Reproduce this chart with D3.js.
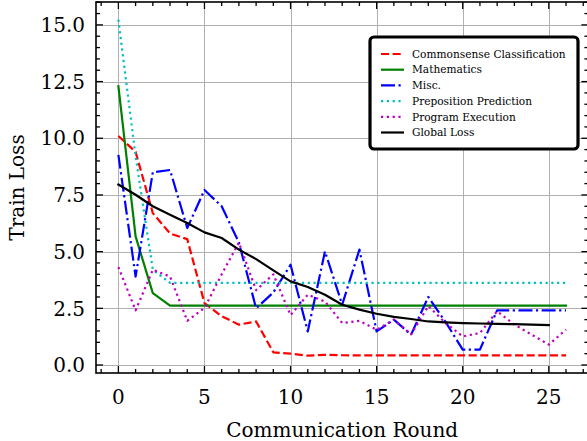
<!DOCTYPE html>
<head>
<meta charset="utf-8">
<title> Train Loss </title>
<script type="text/javascript" src="https://cdn.jsdelivr.net/npm/d3@7"></script>

<style>
body {
	margin: 0;
	background: #fff;
	}
text {
	font-family: "DejaVu Serif", serif;
	fill: #000;
	}
.grid line {
	stroke: #b0b0b0;
	stroke-width: 1;
	shape-rendering: crispEdges;
	}
</style>

</head>
<body>

<script>
// data
var rounds = d3.range(0, 27);
var globalRounds = d3.range(0, 26);

var commonsense = [10.1, 9.4, 6.7, 5.8, 5.55, 2.73, 2.15, 1.78, 1.92, 0.56, 0.5, 0.41, 0.45, 0.43, 0.42, 0.42, 0.42, 0.42, 0.42, 0.42, 0.42, 0.42, 0.42, 0.42, 0.42, 0.42, 0.42];
var mathematics = [12.3, 5.67, 3.17, 2.62, 2.62, 2.62, 2.62, 2.62, 2.62, 2.62, 2.62, 2.62, 2.62, 2.62, 2.62, 2.62, 2.62, 2.62, 2.62, 2.62, 2.62, 2.62, 2.62, 2.62, 2.62, 2.62, 2.62];
var misc = [9.27, 3.9, 8.5, 8.6, 6.04, 7.72, 7.0, 5.4, 2.5, 3.2, 4.42, 1.48, 5.01, 2.66, 5.09, 1.48, 2.0, 1.34, 3.0, 1.9, 0.68, 0.68, 2.41, 2.41, 2.41, 2.41, 2.41];
var preposition = [15.23, 9.2, 4.2, 3.62, 3.62, 3.62, 3.62, 3.62, 3.62, 3.62, 3.62, 3.62, 3.62, 3.62, 3.62, 3.62, 3.62, 3.62, 3.62, 3.62, 3.62, 3.62, 3.62, 3.62, 3.62, 3.62, 3.62];
var program = [4.32, 2.41, 4.2, 3.9, 1.95, 2.51, 4.0, 5.4, 3.3, 4.0, 2.2, 3.1, 2.8, 1.85, 1.95, 1.55, 2.0, 1.35, 2.6, 1.85, 1.26, 1.41, 2.37, 1.78, 1.34, 0.9, 1.56];
var globalLoss = [7.96, 7.51, 7.0, 6.63, 6.26, 5.85, 5.6, 5.09, 4.67, 4.17, 3.69, 3.44, 3.1, 2.66, 2.44, 2.26, 2.12, 2.03, 1.92, 1.88, 1.85, 1.83, 1.81, 1.8, 1.78, 1.76];

var seriesNames = ["Commonsense Classification", "Mathematics", "Misc.", "Preposition Prediction", "Program Execution", "Global Loss"];
var xTicks = [0, 5, 10, 15, 20, 25];
var yTicks = [0, 2.5, 5, 7.5, 10, 12.5, 15];

var series = [
	{name: seriesNames[0], x: rounds, y: commonsense, color: "#ff0000", dash: "8.1,3.5", cap: "butt"},
	{name: seriesNames[1], x: rounds, y: mathematics, color: "#008000", dash: null, cap: "square"},
	{name: seriesNames[2], x: rounds, y: misc, color: "#0000ff", dash: "14,3.5,2.2,3.5", cap: "butt"},
	{name: seriesNames[3], x: rounds, y: preposition, color: "#00bfbf", dash: "2.2,3.6", cap: "butt"},
	{name: seriesNames[4], x: rounds, y: program, color: "#bf00bf", dash: "2.2,3.6", cap: "butt"},
	{name: seriesNames[5], x: globalRounds, y: globalLoss, color: "#000000", dash: null, cap: "square"}
];

var width = 587, height = 441;
var pLeft = 96, pRight = 588.4, pTop = 2, pBottom = 373;

var svg = d3.select("body").append("svg")
	.attr("width", width)
	.attr("height", height);

var x = d3.scaleLinear().domain([-1.3, 27.3]).range([pLeft, pRight]);
var y = d3.scaleLinear().domain([-0.353, 16.01]).range([pBottom, pTop]);

// grid
var grid = svg.append("g").attr("class", "grid");
grid.selectAll(".gx").data(xTicks).enter().append("line")
	.attr("x1", function(d) { return Math.round(x(d)) + 0.5 })
	.attr("x2", function(d) { return Math.round(x(d)) + 0.5 })
	.attr("y1", pTop).attr("y2", pBottom);
grid.selectAll(".gy").data(yTicks).enter().append("line")
	.attr("y1", function(d) { return Math.round(y(d)) + 0.5 })
	.attr("y2", function(d) { return Math.round(y(d)) + 0.5 })
	.attr("x1", pLeft).attr("x2", pRight);

// lines
svg.append("clipPath").attr("id", "clip").append("rect")
	.attr("x", pLeft).attr("y", pTop).attr("width", pRight - pLeft).attr("height", pBottom - pTop);

var plot = svg.append("g").attr("clip-path", "url(#clip)");
series.forEach(function(s) {
	var line = d3.line()
		.x(function(d, i) { return x(s.x[i]) })
		.y(function(d) { return y(d) });
	plot.append("path")
		.attr("d", line(s.y))
		.attr("fill", "none")
		.attr("stroke", s.color)
		.attr("stroke-width", 2.2)
		.attr("stroke-linejoin", "round")
		.attr("stroke-linecap", s.cap)
		.attr("stroke-dasharray", s.dash);
});

// axes: ticks inward on all four sides
function tickLines(g, values, len, isX) {
	values.forEach(function(v) {
		if (isX) {
			var px = x(v);
			g.append("line").attr("x1", px).attr("x2", px).attr("y1", pBottom).attr("y2", pBottom - len);
			g.append("line").attr("x1", px).attr("x2", px).attr("y1", pTop).attr("y2", pTop + len);
		} else {
			var py = y(v);
			g.append("line").attr("y1", py).attr("y2", py).attr("x1", pLeft).attr("x2", pLeft + len);
			g.append("line").attr("y1", py).attr("y2", py).attr("x1", pRight).attr("x2", pRight - len);
		}
	});
}
var ticks = svg.append("g").attr("stroke", "#000").attr("stroke-width", 1.3);
var xMinor = d3.range(-1, 28).filter(function(d) { return d % 5 != 0 });
var yMinor = d3.range(0, 33).map(function(d) { return d * 0.5 }).filter(function(d) { return d % 2.5 != 0 });
tickLines(ticks, xTicks, 7, true);
tickLines(ticks, xMinor, 4, true);
tickLines(ticks, yTicks, 7, false);
tickLines(ticks, yMinor, 4, false);

svg.append("rect")
	.attr("x", pLeft).attr("y", pTop).attr("width", pRight - pLeft).attr("height", pBottom - pTop)
	.attr("fill", "none").attr("stroke", "#000").attr("stroke-width", 1.6);

// tick labels
svg.selectAll(".xl").data(xTicks).enter().append("text")
	.attr("x", function(d) { return x(d) })
	.attr("y", 404)
	.attr("text-anchor", "middle")
	.style("font-size", "20px")
	.text(function(d) { return d });
svg.selectAll(".yl").data(yTicks).enter().append("text")
	.attr("x", 85)
	.attr("y", function(d) { return y(d) })
	.attr("dy", "0.36em")
	.attr("text-anchor", "end")
	.style("font-size", "20px")
	.text(function(d) { return d3.format(".1f")(d) });

// axis titles
svg.append("text")
	.attr("x", (pLeft + pRight) / 2).attr("y", 437)
	.attr("text-anchor", "middle")
	.style("font-size", "20px")
	.text("Communication Round");
svg.append("text")
	.attr("transform", "translate(24," + (pTop + pBottom) / 2 + ") rotate(-90)")
	.attr("text-anchor", "middle")
	.style("font-size", "20px")
	.text("Train Loss");

// legend
var legend = svg.append("g");
legend.append("rect")
	.attr("x", 370).attr("y", 37).attr("width", 208).attr("height", 112).attr("rx", 4)
	.attr("fill", "#fff").attr("stroke", "#000").attr("stroke-width", 3.2);
series.forEach(function(s, i) {
	var ly = 54 + i * 15.7;
	legend.append("line")
		.attr("x1", 381).attr("x2", 404).attr("y1", ly).attr("y2", ly)
		.attr("stroke", s.color)
		.attr("stroke-width", 2.2)
		.attr("stroke-dasharray", s.dash);
	legend.append("text")
		.attr("x", 412).attr("y", ly).attr("dy", "0.35em")
		.style("font-family", "'DejaVu Serif', serif")
		.style("font-size", "10.6px")
		.text(s.name);
});
</script>

</body>
